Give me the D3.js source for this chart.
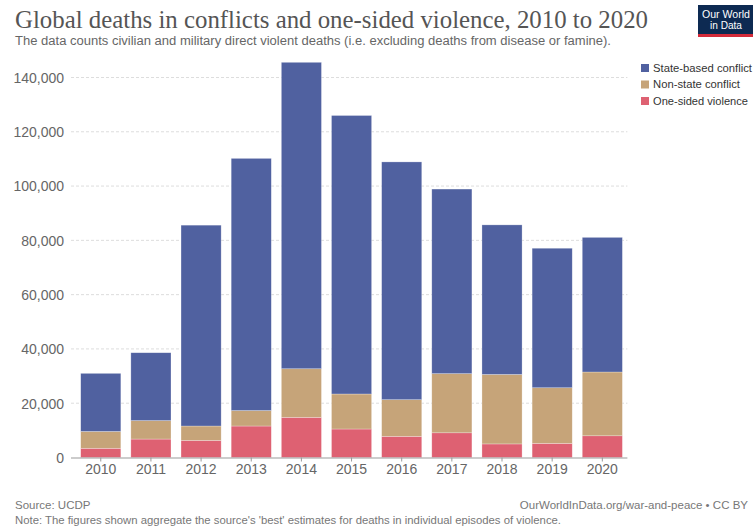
<!DOCTYPE html>
<html>
<head>
<meta charset="utf-8">
<script src="https://cdn.jsdelivr.net/npm/d3@7"></script>
<style>
  html, body { margin: 0; padding: 0; background: #fff; }
  svg { display: block; }
</style>
</head>
<body>
<svg id="chart" width="753" height="531"></svg>
<script>
// Deaths by type of organized violence, per year (UCDP "best" estimates)
const years = ["2010", "2011", "2012", "2013", "2014", "2015", "2016", "2017", "2018", "2019", "2020"];
const oneSided   = [3400, 6800, 6300, 11600, 14800, 10500, 7800, 9100, 5000, 5200, 8000];
const nonState   = [6200, 6800, 5300, 5700, 17900, 12900, 13500, 21800, 25600, 20500, 23500];
const stateBased = [21400, 25000, 74000, 92900, 112900, 102600, 87600, 68000, 55100, 51400, 49600];

const seriesKeys   = ["oneSided", "nonState", "stateBased"];
const seriesLabels = ["One-sided violence", "Non-state conflict", "State-based conflict"];
const seriesColors = ["#de6172", "#c6a479", "#5061a0"];
const yTicks = [0, 20000, 40000, 60000, 80000, 100000, 120000, 140000];

const rows = years.map((y, i) => ({
  year: y, oneSided: oneSided[i], nonState: nonState[i], stateBased: stateBased[i]
}));

const svg = d3.select("#chart");
const font = "'Liberation Sans', Arial, sans-serif";

const x = d3.scaleBand().domain(years).range([75.7, 627.4]).paddingInner(0.2).paddingOuter(0.1);
const y = d3.scaleLinear().domain([0, 140000]).range([457.5, 77.5]);

// Title and subtitle
svg.append("text")
  .attr("x", 15).attr("y", 28)
  .attr("font-family", "'Liberation Serif', 'DejaVu Serif', serif")
  .attr("font-size", 25).attr("fill", "#555")
  .attr("textLength", 633).attr("lengthAdjust", "spacingAndGlyphs")
  .text("Global deaths in conflicts and one-sided violence, 2010 to 2020");

svg.append("text")
  .attr("x", 15).attr("y", 45)
  .attr("font-family", font).attr("font-size", 12.5).attr("fill", "#666")
  .attr("textLength", 596).attr("lengthAdjust", "spacingAndGlyphs")
  .text("The data counts civilian and military direct violent deaths (i.e. excluding deaths from disease or famine).");

// Logo
const logo = svg.append("g");
logo.append("rect").attr("x", 698).attr("y", 5).attr("width", 55).attr("height", 32).attr("fill", "#0d2a52");
logo.append("rect").attr("x", 698).attr("y", 34).attr("width", 55).attr("height", 3).attr("fill", "#d42b3a");
logo.append("text").attr("x", 726).attr("y", 18).attr("text-anchor", "middle")
  .attr("font-family", font).attr("font-size", 10.5).attr("fill", "#fff")
  .attr("textLength", 48).attr("lengthAdjust", "spacingAndGlyphs").text("Our World");
logo.append("text").attr("x", 726).attr("y", 29).attr("text-anchor", "middle")
  .attr("font-family", font).attr("font-size", 10.5).attr("fill", "#fff")
  .attr("textLength", 32).attr("lengthAdjust", "spacingAndGlyphs").text("in Data");

// Gridlines and y-axis labels
const yAxis = d3.axisLeft(y).tickValues(yTicks).tickFormat(d3.format(",")).tickSize(0).tickPadding(0);
const yg = svg.append("g").attr("transform", "translate(64,0)").call(yAxis);
yg.select(".domain").remove();
yg.selectAll("text").attr("font-family", font).attr("font-size", 14).attr("fill", "#666").attr("dy", "0.35em");

svg.append("g").selectAll("line")
  .data(yTicks.filter(d => d > 0))
  .join("line")
  .attr("x1", 71).attr("x2", 627.4)
  .attr("y1", d => y(d)).attr("y2", d => y(d))
  .attr("stroke", "#ddd").attr("stroke-dasharray", "3,2").attr("stroke-width", 1);

// Stacked bars
const stack = d3.stack().keys(seriesKeys);
const layers = stack(rows);
svg.append("g").selectAll("g")
  .data(layers)
  .join("g")
  .attr("fill", (d, i) => seriesColors[i])
  .selectAll("rect")
  .data(d => d)
  .join("rect")
  .attr("x", d => x(d.data.year))
  .attr("width", x.bandwidth())
  .attr("y", d => y(d[1]))
  .attr("height", d => y(d[0]) - y(d[1]))
  .attr("stroke", "rgba(255,255,255,0.45)")
  .attr("stroke-width", 0.6);

// X axis
const xAxis = d3.axisBottom(x).tickSize(4).tickPadding(3);
const xg = svg.append("g").attr("transform", `translate(0,${y(0)})`).call(xAxis);
xg.select(".domain").attr("d", `M71,0.5H627.4`).attr("stroke", "#999");
xg.selectAll(".tick line").attr("stroke", "#999");
xg.selectAll("text").attr("font-family", font).attr("font-size", 14).attr("fill", "#666");

// Legend (stacking order reversed, top to bottom)
const legendWidths = [95, 87, 99];
const legend = svg.append("g");
[2, 1, 0].forEach((k, i) => {
  const ly = 68 + i * 16.5;
  legend.append("rect").attr("x", 641).attr("y", ly - 4).attr("width", 8).attr("height", 8).attr("fill", seriesColors[k]);
  legend.append("text").attr("x", 653).attr("y", ly).attr("dy", "0.35em")
    .attr("font-family", font).attr("font-size", 10.8).attr("fill", "#333")
    .attr("textLength", legendWidths[k]).attr("lengthAdjust", "spacingAndGlyphs")
    .text(seriesLabels[k]);
});

// Footer
svg.append("text").attr("x", 15).attr("y", 509)
  .attr("font-family", font).attr("font-size", 11.5).attr("fill", "#777")
  .text("Source: UCDP");
svg.append("text").attr("x", 748).attr("y", 509).attr("text-anchor", "end")
  .attr("font-family", font).attr("font-size", 11.5).attr("fill", "#777")
  .text("OurWorldInData.org/war-and-peace • CC BY");
svg.append("text").attr("x", 15).attr("y", 524)
  .attr("font-family", font).attr("font-size", 11.5).attr("fill", "#777")
  .attr("textLength", 546).attr("lengthAdjust", "spacingAndGlyphs")
  .text("Note: The figures shown aggregate the source's 'best' estimates for deaths in individual episodes of violence.");
</script>
</body>
</html>
